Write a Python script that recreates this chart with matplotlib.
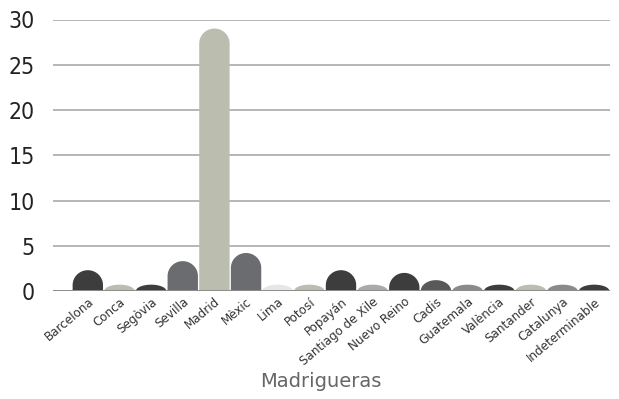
import numpy as np
import matplotlib
matplotlib.use("Agg")
import matplotlib.pyplot as plt
from matplotlib.patches import Polygon

# Dades llegides del gràfic
llocs = ["Barcelona", "Conca", "Segòvia", "Sevilla", "Madrid", "Mèxic", "Lima",
         "Potosí", "Popayán", "Santiago de Xile", "Nuevo Reino", "Cadis",
         "Guatemala", "València", "Santander", "Catalunya", "Indeterminable"]
valors = [2.3, 0.7, 0.7, 3.3, 29, 4.2, 0.7, 0.7, 2.3, 0.7, 2.0, 1.2,
          0.7, 0.7, 0.7, 0.7, 0.7]
colors = ["#3d3d3d", "#bbbdae", "#3d3d3d", "#6b6c70", "#bbbdae", "#6b6c70",
          "#e6e6e8", "#bbbdae", "#3d3d3d", "#a9aaad", "#3d3d3d", "#58595b",
          "#8a8a8c", "#3d3d3d", "#bbbdae", "#8a8a8c", "#3d3d3d"]

fig = plt.figure(figsize=(6.19, 3.99), dpi=100)
ax = fig.add_axes([53 / 619, 1 - 291 / 399, (610 - 53) / 619, (291 - 19.5) / 399])

ax.set_xlim(-1.1, len(llocs) - 0.5)
ax.set_ylim(0, 30)

# barres amb la part de dalt arrodonida
amplada = 0.96
radi = 1.65  # en unitats de l'eix y
t = np.linspace(0, np.pi, 60)
for i, (v, c) in enumerate(zip(valors, colors)):
    cap = min(radi, v)
    base = v - cap
    xs = list(i + amplada / 2 * np.cos(t)) + [i - amplada / 2, i + amplada / 2]
    ys = list(base + cap * np.sin(t)) + [0, 0]
    ax.add_patch(Polygon(np.column_stack([xs, ys]), closed=True,
                         facecolor=c, edgecolor="none", zorder=3))

ax.set_yticks(range(0, 31, 5))
ax.yaxis.grid(True, color="#b5b5b5", linewidth=1.4, zorder=0)
ax.axhline(0, color="#8c8c8c", linewidth=1.4, zorder=4)
for s in ax.spines.values():
    s.set_visible(False)
ax.tick_params(length=0)

ax.set_xticks(range(len(llocs)))
ax.set_xticklabels(llocs, rotation=40, ha="right", rotation_mode="anchor",
                   fontsize=9.5, color="#333333", fontstretch="condensed")
for lab in ax.get_yticklabels():
    lab.set_fontsize(16.5)
    lab.set_color("#222222")
    lab.set_fontstretch("condensed")
ax.tick_params(axis="y", pad=13)
ax.tick_params(axis="x", pad=3)

ax.set_xlabel("Madrigueras", fontsize=14, color="#666666")
ax.xaxis.set_label_coords(0.48, -0.3)

fig.savefig("out.png", dpi=100)
